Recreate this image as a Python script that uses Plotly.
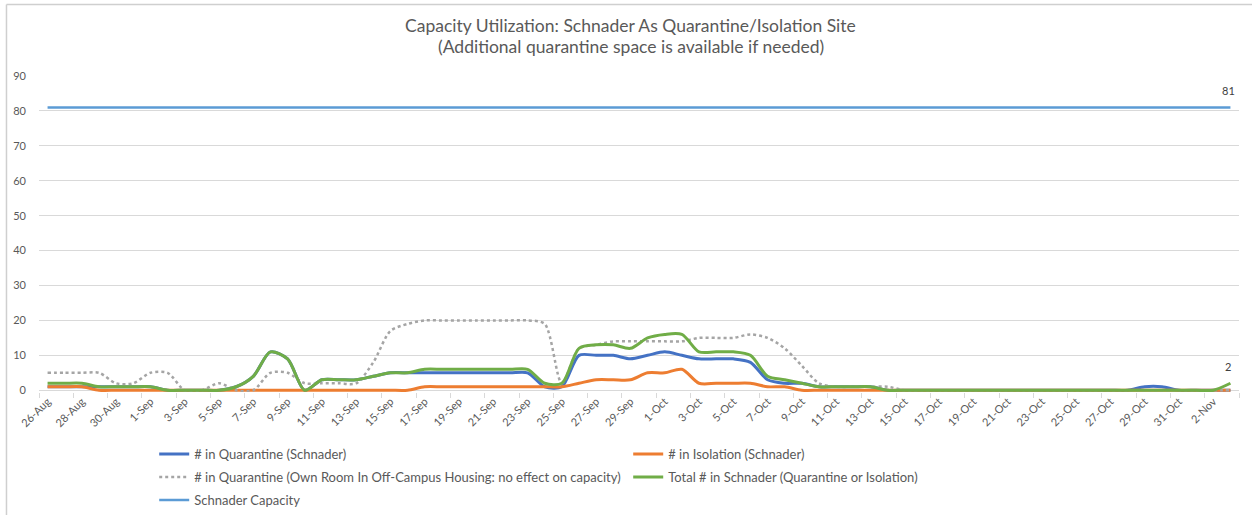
import plotly.graph_objects as go

dates = [
    "26-Aug", "27-Aug", "28-Aug", "29-Aug", "30-Aug", "31-Aug",
    "1-Sep", "2-Sep", "3-Sep", "4-Sep", "5-Sep", "6-Sep", "7-Sep", "8-Sep", "9-Sep", "10-Sep",
    "11-Sep", "12-Sep", "13-Sep", "14-Sep", "15-Sep", "16-Sep", "17-Sep", "18-Sep", "19-Sep", "20-Sep",
    "21-Sep", "22-Sep", "23-Sep", "24-Sep", "25-Sep", "26-Sep", "27-Sep", "28-Sep", "29-Sep", "30-Sep",
    "1-Oct", "2-Oct", "3-Oct", "4-Oct", "5-Oct", "6-Oct", "7-Oct", "8-Oct", "9-Oct", "10-Oct",
    "11-Oct", "12-Oct", "13-Oct", "14-Oct", "15-Oct", "16-Oct", "17-Oct", "18-Oct", "19-Oct", "20-Oct",
    "21-Oct", "22-Oct", "23-Oct", "24-Oct", "25-Oct", "26-Oct", "27-Oct", "28-Oct", "29-Oct", "30-Oct",
    "31-Oct", "1-Nov", "2-Nov", "3-Nov",
]

quarantine_schnader = [
    1, 1, 1, 1, 1, 1, 1, 0, 0, 0,
    0, 1, 4, 11, 9, 0, 3, 3, 3, 4,
    5, 5, 5, 5, 5, 5, 5, 5, 5, 1,
    1, 10, 10, 10, 9, 10, 11, 10, 9, 9,
    9, 8, 3, 2, 2, 1, 1, 1, 1, 0,
    0, 0, 0, 0, 0, 0, 0, 0, 0, 0,
    0, 0, 0, 0, 1, 1, 0, 0, 0, 0,
]

isolation_schnader = [
    1, 1, 1, 0, 0, 0, 0, 0, 0, 0,
    0, 0, 0, 0, 0, 0, 0, 0, 0, 0,
    0, 0, 1, 1, 1, 1, 1, 1, 1, 1,
    1, 2, 3, 3, 3, 5, 5, 6, 2, 2,
    2, 2, 1, 1, 0, 0, 0, 0, 0, 0,
    0, 0, 0, 0, 0, 0, 0, 0, 0, 0,
    0, 0, 0, 0, 0, 0, 0, 0, 0, 0,
]

quarantine_off_campus = [
    5, 5, 5, 5, 2, 2, 5, 5, 0, 0,
    2, 0, 0, 5, 5, 2, 2, 2, 2, 8,
    17, 19, 20, 20, 20, 20, 20, 20, 20, 19,
    2, 12, 13, 14, 14, 14, 14, 14, 15, 15,
    15, 16, 15, 12, 7, 2, 1, 1, 1, 1,
    0, 0, 0, 0, 0, 0, 0, 0, 0, 0,
    0, 0, 0, 0, 0, 0, 0, 0, 0, 0,
]

total_schnader = [
    2, 2, 2, 1, 1, 1, 1, 0, 0, 0,
    0, 1, 4, 11, 9, 0, 3, 3, 3, 4,
    5, 5, 6, 6, 6, 6, 6, 6, 6, 2,
    2, 12, 13, 13, 12, 15, 16, 16, 11, 11,
    11, 10, 4, 3, 2, 1, 1, 1, 1, 0,
    0, 0, 0, 0, 0, 0, 0, 0, 0, 0,
    0, 0, 0, 0, 0, 0, 0, 0, 0, 2,
]

capacity = [81] * len(dates)

series_names = [
    "# in Quarantine (Schnader)",
    "# in Isolation (Schnader)",
    "# in Quarantine (Own Room In Off-Campus Housing: no effect on capacity)",
    "Total # in Schnader (Quarantine or Isolation)",
    "Schnader Capacity",
]

title_lines = [
    "Capacity Utilization: Schnader As Quarantine/Isolation Site",
    "(Additional quarantine space is available if needed)",
]

FONT = "Lato, 'Open Sans', sans-serif"
TXT = "#595959"
GRID = "#D9D9D9"

# plot area: top at y=76px, bottom at y=392px (height 316px)
PLOT_TOP, PLOT_BOTTOM = 76, 392


def paper_y(px):
    return (PLOT_BOTTOM - px) / (PLOT_BOTTOM - PLOT_TOP)


fig = go.Figure()

fig.add_trace(go.Scatter(
    x=dates, y=quarantine_schnader, name=series_names[0], mode="lines",
    line=dict(color="#4472C4", width=3, shape="spline", smoothing=0.8),
    legend="legend",
))
fig.add_trace(go.Scatter(
    x=dates, y=isolation_schnader, name=series_names[1], mode="lines",
    line=dict(color="#ED7D31", width=3, shape="spline", smoothing=0.8),
    legend="legend",
))
fig.add_trace(go.Scatter(
    x=dates, y=quarantine_off_campus, name=series_names[2], mode="lines",
    line=dict(color="#A5A5A5", width=2.5, dash="dot", shape="spline", smoothing=0.8),
    legend="legend2",
))
fig.add_trace(go.Scatter(
    x=dates, y=total_schnader, name=series_names[3], mode="lines",
    line=dict(color="#70AD47", width=3, shape="spline", smoothing=0.8),
    legend="legend2",
))
fig.add_trace(go.Scatter(
    x=dates, y=capacity, name=series_names[4], mode="lines",
    line=dict(color="#5B9BD5", width=2.5),
    legend="legend3",
))

legend_common = dict(
    orientation="h", x=0.096, xanchor="left", yanchor="middle",
    xref="paper", yref="container",
    font=dict(family=FONT, size=13, color=TXT),
    entrywidth=429, bgcolor="rgba(0,0,0,0)",
)

annotations = [
    dict(text=title_lines[0], xref="paper", yref="paper", x=0.4933, y=paper_y(25),
         xanchor="center", yanchor="middle", showarrow=False,
         font=dict(family=FONT, size=17.5, color=TXT)),
    dict(text=title_lines[1], xref="paper", yref="paper", x=0.4933, y=paper_y(47),
         xanchor="center", yanchor="middle", showarrow=False,
         font=dict(family=FONT, size=17.5, color=TXT)),
    dict(text=str(capacity[-1]), x=dates[-1], y=capacity[-1], xref="x", yref="y",
         showarrow=False, yshift=17, xshift=-2,
         font=dict(family=FONT, size=11, color="#404040")),
    dict(text=str(total_schnader[-1]), x=dates[-1], y=total_schnader[-1], xref="x", yref="y",
         showarrow=False, yshift=17, xshift=-2,
         font=dict(family=FONT, size=11, color="#404040")),
]

fig.update_layout(
    width=1252, height=515,
    margin=dict(l=39, r=13, t=PLOT_TOP, b=515 - PLOT_BOTTOM, autoexpand=False),
    paper_bgcolor="white", plot_bgcolor="white",
    font=dict(family=FONT, color=TXT),
    showlegend=True,
    legend=dict(y=1 - 454 / 515, **legend_common),
    legend2=dict(y=1 - 477 / 515, **legend_common),
    legend3=dict(y=1 - 500 / 515, **legend_common),
    xaxis=dict(
        type="category", tickmode="linear", tick0=0, dtick=2,
        tickson="boundaries", ticks="outside", ticklen=5, tickcolor=GRID,
        showgrid=False, showline=False, zeroline=False,
        tickangle=-45, tickfont=dict(family=FONT, size=11, color=TXT),
        range=[-0.5, len(dates) - 0.5],
    ),
    yaxis=dict(
        range=[-0.5, 90], tickmode="linear", tick0=0, dtick=10,
        showgrid=True, gridcolor=GRID, gridwidth=1,
        zeroline=True, zerolinecolor=GRID, zerolinewidth=1,
        showline=False, ticks="", ticklabelstandoff=12,
        tickfont=dict(family=FONT, size=11, color=TXT),
    ),
    annotations=annotations,
    shapes=[
        dict(type="line", xref="paper", yref="paper",
             x0=-0.0271, x1=-0.0271, y0=paper_y(4.5), y1=paper_y(520),
             line=dict(color="#CFCFCF", width=1.5)),
        dict(type="line", xref="paper", yref="paper",
             x0=-0.0271, x1=1.02, y0=paper_y(4.5), y1=paper_y(4.5),
             line=dict(color="#CFCFCF", width=1.5)),
    ],
)

fig.write_html(
    "out.html",
    config={"displayModeBar": False},
    post_script="document.body.style.margin='0px';",
)
